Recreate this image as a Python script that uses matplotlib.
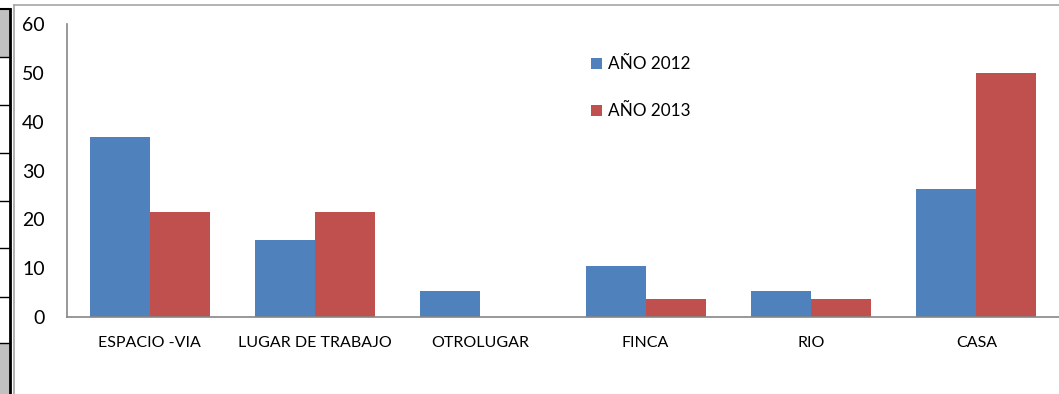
import numpy as np
import matplotlib
matplotlib.use('Agg')
from matplotlib import pyplot as plt
from matplotlib.patches import Rectangle
from matplotlib.lines import Line2D

plt.rcParams['font.family'] = ['Lato', 'DejaVu Sans']

lugares = ['ESPACIO -VIA', 'LUGAR DE TRABAJO', 'OTROLUGAR', 'FINCA', 'RIO', 'CASA']
anio_2012 = [36.8, 15.8, 5.3, 10.5, 5.3, 26.3]
anio_2013 = [21.4, 21.4, 0, 3.6, 3.6, 50.0]
series = ['AÑO 2012', 'AÑO 2013']
yticks = [0, 10, 20, 30, 40, 50, 60]

W, H = 1059, 394
fig = plt.figure(figsize=(W / 100, H / 100), dpi=100)

# strip of worksheet cells on the left
fig.patches.append(Rectangle((0, 1 - 57 / H), 10 / W, 48 / H, transform=fig.transFigure,
                             facecolor='#c0c0c0', edgecolor='none'))
fig.patches.append(Rectangle((0, 0), 10 / W, 51 / H, transform=fig.transFigure,
                             facecolor='#c0c0c0', edgecolor='none'))
fig.lines.append(Line2D([10 / W, 10 / W], [0, 1 - 9 / H], transform=fig.transFigure,
                        color='black', lw=2))
fig.lines.append(Line2D([0, 10 / W], [1 - 9 / H, 1 - 9 / H], transform=fig.transFigure,
                        color='black', lw=1.5))
for yy in [57, 105, 153, 201, 248, 297, 343]:
    fig.lines.append(Line2D([0, 10 / W], [1 - yy / H, 1 - yy / H], transform=fig.transFigure,
                            color='black', lw=1))

# chart frame
fig.lines.append(Line2D([14 / W, 14 / W], [0, 1 - 5 / H], transform=fig.transFigure,
                        color='#a6a6a6', lw=1.2))
fig.lines.append(Line2D([14 / W, 1], [1 - 5 / H, 1 - 5 / H], transform=fig.transFigure,
                        color='#a6a6a6', lw=1.2))

ax = fig.add_axes([67 / W, (H - 317) / H, (W - 67) / W, (317 - 24) / H])

x = np.arange(len(lugares))
w = 0.363
b1 = ax.bar(x - w / 2, anio_2012, w, color='#4f81bd', label=series[0])
b2 = ax.bar(x + w / 2, anio_2013, w, color='#c0504d', label=series[1])

ax.set_xlim(-0.5, len(lugares) - 0.5)
ax.set_ylim(0, 60)
ax.set_yticks(yticks)
ax.set_xticks(x)
ax.set_xticklabels(lugares, fontsize=11.5)
ax.tick_params(axis='y', length=0, labelsize=14, pad=16)
ax.tick_params(axis='x', length=0, pad=14)
for s in ['top', 'right']:
    ax.spines[s].set_visible(False)
for s in ['left', 'bottom']:
    ax.spines[s].set_color('#868686')
    ax.spines[s].set_linewidth(1.2)

ax.legend(loc='upper left', bbox_to_anchor=(509 / (W - 67), 1 - 17 / 293), frameon=False,
          fontsize=12.3, handlelength=0.6, handleheight=0.6, handletextpad=0.4,
          labelspacing=1.8)

fig.savefig('out.png', dpi=100)
